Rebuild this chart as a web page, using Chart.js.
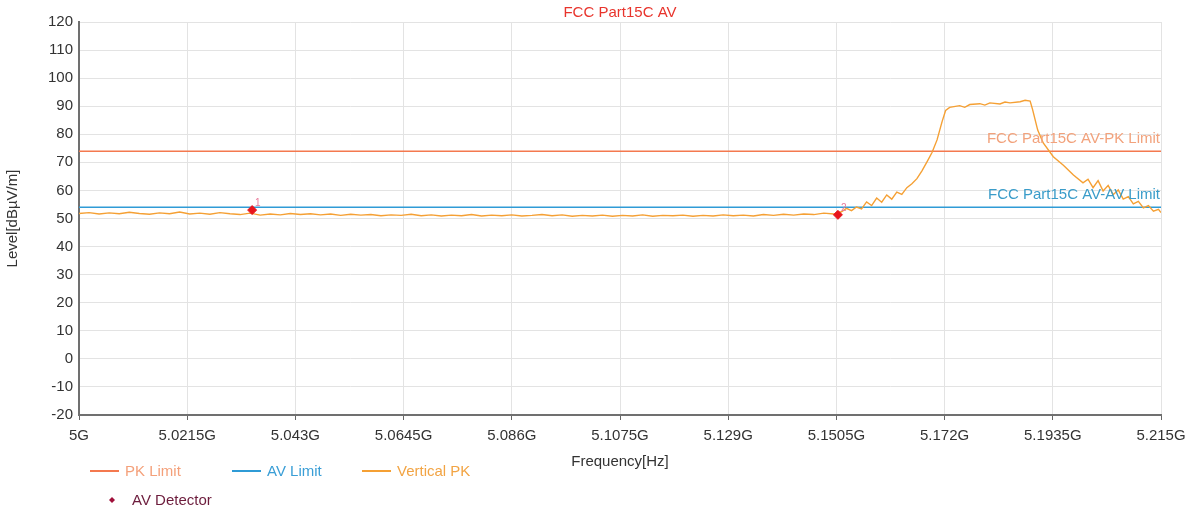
<!DOCTYPE html>
<html>
<head>
<meta charset="utf-8">
<script src="https://cdn.jsdelivr.net/npm/chart.js@4.4.0/dist/chart.umd.min.js"></script>
<style>
  body { margin: 0; background: #fff; }
  #wrap { width: 1198px; height: 513px; }
</style>
</head>
<body>
<div id="wrap"><canvas id="grafico_fcc" width="1198" height="513"></canvas></div>
<script>
// frequency axis (GHz)
const xTickValues = [5, 5.0215, 5.043, 5.0645, 5.086, 5.1075, 5.129, 5.1505, 5.172, 5.1935, 5.215];
const xTickLabels = ["5G", "5.0215G", "5.043G", "5.0645G", "5.086G", "5.1075G", "5.129G", "5.1505G", "5.172G", "5.1935G", "5.215G"];

// limit lines
const limitFreqs = [5, 5.215];
const pkLimit = [74, 74];
const avLimit = [54, 54];

// vertical PK trace
const pkFreqs = [
  5.000, 5.002, 5.004, 5.006, 5.008, 5.010, 5.012, 5.014, 5.016, 5.018,
  5.020, 5.022, 5.024, 5.026, 5.028, 5.030, 5.032, 5.034, 5.036, 5.038,
  5.040, 5.042, 5.044, 5.046, 5.048, 5.050, 5.052, 5.054, 5.056, 5.058,
  5.060, 5.062, 5.064, 5.066, 5.068, 5.070, 5.072, 5.074, 5.076, 5.078,
  5.080, 5.082, 5.084, 5.086, 5.088, 5.090, 5.092, 5.094, 5.096, 5.098,
  5.100, 5.102, 5.104, 5.106, 5.108, 5.110, 5.112, 5.114, 5.116, 5.118,
  5.120, 5.122, 5.124, 5.126, 5.128, 5.130, 5.132, 5.134, 5.136, 5.138,
  5.140, 5.142, 5.144, 5.146, 5.148, 5.150,
  5.1515, 5.1525, 5.1535, 5.1545, 5.1555, 5.1565, 5.1575, 5.1585, 5.1595, 5.1605,
  5.1615, 5.1625, 5.1635, 5.1645, 5.1655, 5.1665, 5.1675, 5.1685, 5.1695, 5.1705,
  5.1715, 5.1722, 5.1730, 5.1750, 5.1760, 5.1770, 5.1790, 5.1800, 5.1810, 5.1830,
  5.1840, 5.1850, 5.1870, 5.1880, 5.1890, 5.1895, 5.1905, 5.1916, 5.1936, 5.1956,
  5.1976, 5.1995, 5.2005, 5.2015, 5.2025, 5.2035, 5.2045, 5.2055, 5.2065, 5.2075,
  5.2085, 5.2095, 5.2105, 5.2115, 5.2125, 5.2135, 5.2145, 5.2150
];
const pkLevels = [
  51.8, 52.1, 51.6, 52.0, 51.7, 52.2, 51.8, 51.5, 52.0, 51.7,
  52.3, 51.6, 51.9, 51.5, 52.1, 51.7, 51.4, 51.9, 51.2, 51.6,
  51.3, 51.8, 51.4, 51.7, 51.3, 51.6, 51.1, 51.5, 51.2, 51.4,
  51.0, 51.3, 51.1, 51.5, 51.0, 51.3, 50.9, 51.2, 51.0, 51.4,
  50.9, 51.2, 51.0, 51.3, 50.9, 51.1, 51.4, 51.0, 51.3, 50.8,
  51.1, 50.9, 51.2, 50.8, 51.1, 50.9, 51.3, 50.8, 51.1, 51.0,
  51.2, 50.8, 51.1, 50.9, 51.3, 51.0, 51.2, 50.9, 51.4, 51.1,
  51.5, 51.2, 51.6, 51.4, 51.9, 51.6,
  52.4, 53.6, 52.8, 54.1, 53.4, 55.9, 54.6, 57.3, 55.8, 58.4,
  56.9, 59.4, 58.6, 61.0, 62.4, 64.2, 67.0, 70.2, 73.5, 78.0,
  84.5, 88.5, 89.6, 90.2, 89.6, 90.6, 90.9, 90.4, 91.2, 90.8,
  91.5, 91.2, 91.6, 92.1, 91.8, 88.7, 81.5, 76.9, 72.0, 69.0,
  65.5, 62.7, 64.0, 61.0, 63.5, 59.8, 61.8, 58.5, 60.2, 56.9,
  57.8, 55.2, 56.1, 53.8, 54.6, 52.6, 53.3, 52.1
];

// AV detector markers
const avDetFreqs = [5.0344, 5.1508];
const avDetLevels = [53.0, 51.3];
const avDetNames = ["1", "2"];

const yTitle = "Level[dBµV/m]";
const xTitle = "Frequency[Hz]";
const chartTitle = "FCC Part15C AV";

function pares(xs, ys) {
  return xs.map(function (x, i) { return { x: x, y: ys[i] }; });
}

const FONTE = "'Liberation Sans', Arial, sans-serif";
Chart.defaults.font.family = FONTE;
Chart.defaults.font.size = 15;
Chart.defaults.color = "#333";

// titulo, textos dos limites, rotulos dos marcadores e legenda
const extras = {
  id: "extras",
  afterDraw: function (chart) {
    const ctx = chart.ctx;
    const area = chart.chartArea;
    const y = chart.scales.y;
    const x = chart.scales.x;
    ctx.save();
    ctx.textBaseline = "middle";

    ctx.font = "15px " + FONTE;
    ctx.fillStyle = "#e8342c";
    ctx.textAlign = "center";
    ctx.fillText(chartTitle, (area.left + area.right) / 2, 13);

    ctx.font = "15px " + FONTE;
    ctx.textAlign = "right";
    ctx.fillStyle = "#f2a27c";
    ctx.fillText("FCC Part15C AV-PK Limit", area.right - 1, y.getPixelForValue(pkLimit[0]) - 12);
    ctx.fillStyle = "#3a9cc9";
    ctx.fillText("FCC Part15C AV-AV Limit", area.right - 1, y.getPixelForValue(avLimit[0]) - 12);

    ctx.font = "10px " + FONTE;
    ctx.textAlign = "left";
    ctx.fillStyle = "#e87a9a";
    avDetFreqs.forEach(function (f, i) {
      ctx.fillText(avDetNames[i], x.getPixelForValue(f) + 3, y.getPixelForValue(avDetLevels[i]) - 7);
    });

    // legenda
    const ds = chart.data.datasets;
    const linhas = [
      { d: ds[0], x: 90, y: 471 },
      { d: ds[1], x: 232, y: 471 },
      { d: ds[2], x: 362, y: 471 }
    ];
    ctx.font = "15px " + FONTE;
    linhas.forEach(function (it) {
      ctx.strokeStyle = it.d.borderColor;
      ctx.lineWidth = 2;
      ctx.beginPath();
      ctx.moveTo(it.x, it.y);
      ctx.lineTo(it.x + 29, it.y);
      ctx.stroke();
      ctx.fillStyle = it.d.legendColor;
      ctx.fillText(it.d.label, it.x + 35, it.y + 1);
    });
    const det = ds[3];
    ctx.fillStyle = det.legendMarker;
    ctx.beginPath();
    ctx.moveTo(112, 497);
    ctx.lineTo(115, 500);
    ctx.lineTo(112, 503);
    ctx.lineTo(109, 500);
    ctx.closePath();
    ctx.fill();
    ctx.fillStyle = det.legendColor;
    ctx.fillText(det.label, 132, 501);
    ctx.restore();
  }
};

new Chart(document.getElementById("grafico_fcc"), {
  type: "line",
  data: {
    datasets: [
      {
        label: "PK Limit",
        data: pares(limitFreqs, pkLimit),
        borderColor: "#f4794f",
        legendColor: "#f4a07a",
        borderWidth: 1.5,
        pointRadius: 0,
        order: 3
      },
      {
        label: "AV Limit",
        data: pares(limitFreqs, avLimit),
        borderColor: "#2f9bd6",
        legendColor: "#3a9ed6",
        borderWidth: 1.5,
        pointRadius: 0,
        order: 2
      },
      {
        label: "Vertical PK",
        data: pares(pkFreqs, pkLevels),
        borderColor: "#f5a034",
        legendColor: "#f2a444",
        borderWidth: 1.4,
        pointRadius: 0,
        order: 1
      },
      {
        label: "AV Detector",
        data: pares(avDetFreqs, avDetLevels),
        showLine: false,
        pointStyle: "rectRot",
        pointRadius: 4.5,
        backgroundColor: "#e8141c",
        borderColor: "#e8141c",
        legendColor: "#6c1c3c",
        legendMarker: "#a0103a",
        order: 0
      }
    ]
  },
  options: {
    responsive: false,
    animation: false,
    devicePixelRatio: 1,
    layout: { padding: { top: 22, right: 37, bottom: 38, left: 0 } },
    plugins: {
      legend: { display: false },
      title: { display: false },
      tooltip: { enabled: false }
    },
    scales: {
      x: {
        type: "linear",
        min: 5,
        max: 5.215,
        afterBuildTicks: function (scale) {
          scale.ticks = xTickValues.map(function (v) { return { value: v }; });
        },
        afterFit: function (scale) { scale.height = 60; },
        ticks: {
          autoSkip: false,
          maxRotation: 0,
          padding: 7,
          color: "#333",
          callback: function (value, index) { return xTickLabels[index]; }
        },
        grid: { color: "#e3e3e3", tickColor: "#666", tickLength: 5 },
        border: { color: "#707070", width: 2 },
        title: { display: true, text: xTitle, color: "#333", font: { size: 15 }, padding: { top: 4, bottom: 4 } }
      },
      y: {
        min: -20,
        max: 120,
        afterFit: function (scale) { scale.width = 79; },
        ticks: { stepSize: 10, padding: 6, color: "#333" },
        grid: { color: "#e3e3e3", drawTicks: false },
        border: { color: "#707070", width: 2 },
        title: { display: true, text: yTitle, color: "#333", font: { size: 15 }, padding: { top: 4, bottom: 4 } }
      }
    }
  },
  plugins: [extras]
});
</script>
</body>
</html>
